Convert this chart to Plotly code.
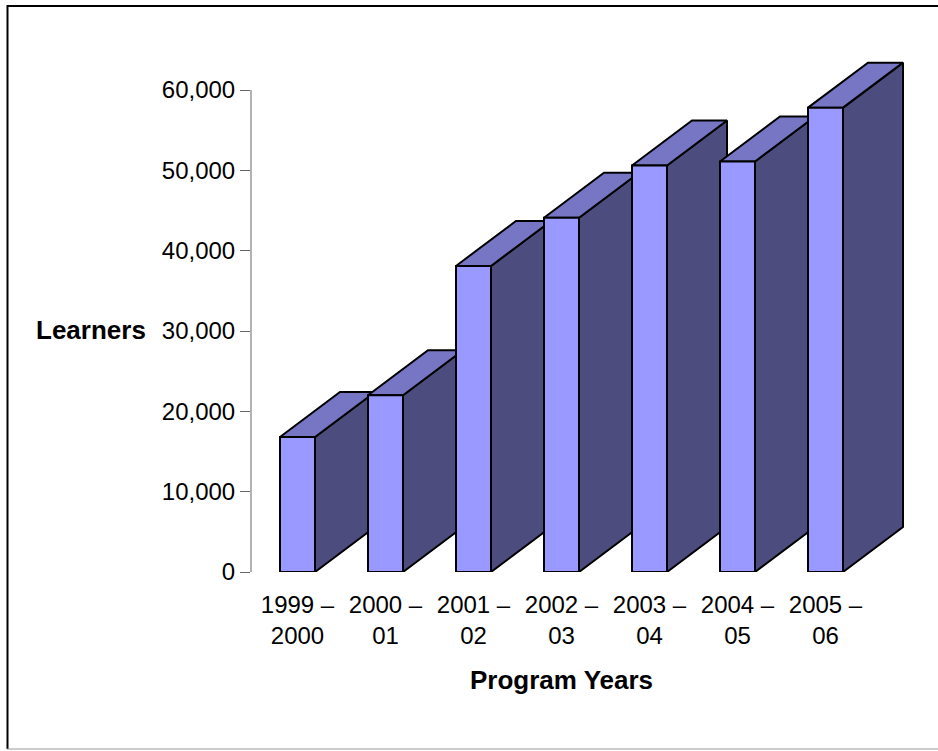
import plotly.graph_objects as go

# ---- data ----
categories = ["1999 –<br>2000", "2000 –<br>01", "2001 –<br>02", "2002 –<br>03",
              "2003 –<br>04", "2004 –<br>05", "2005 –<br>06"]
learners = [16800, 22000, 38100, 44100, 50600, 51100, 57800]
y_ticks = [0, 10000, 20000, 30000, 40000, 50000, 60000]
y_tick_labels = ["0", "10,000", "20,000", "30,000", "40,000", "50,000", "60,000"]

# ---- geometry / layout constants (pixels) ----
W, H = 938, 751
L, R, T, B = 251, 25, 58, 179
plot_w = W - L - R
plot_h = H - T - B
px_per_cat = 88.0
first_center_px = 297.5
px_per_unit = 482.0 / 60000.0

x0 = (L - first_center_px) / px_per_cat
x1 = x0 + plot_w / px_per_cat
ymax = plot_h / px_per_unit

half_w = 17.5 / px_per_cat
dx = 60.0 / px_per_cat
dy = 45.0 / px_per_unit

FRONT = "#9999FF"
SIDE = "#4C4C7F"
TOP = "#7676C4"
EDGE = "black"

fig = go.Figure()

def face(xs, ys, color):
    fig.add_trace(go.Scatter(
        x=xs + [xs[0]], y=ys + [ys[0]], mode="lines", fill="toself",
        fillcolor=color, line=dict(color=EDGE, width=2),
        hoverinfo="skip", showlegend=False))

for i, v in enumerate(learners):
    c = i
    xl, xr = c - half_w, c + half_w
    face([xr, xr + dx, xr + dx, xr], [0, dy, v + dy, v], SIDE)
    face([xl, xr, xr + dx, xl + dx], [v, v, v + dy, v + dy], TOP)
    face([xl, xr, xr, xl], [0, 0, v, v], FRONT)

font_family = "Liberation Sans, Arial, sans-serif"

def pxx(px):
    return (px - L) / plot_w

def pxy(py):
    return (H - B - py) / plot_h

fig.update_layout(
    width=W, height=H,
    margin=dict(l=L, r=R, t=T, b=B, pad=0),
    paper_bgcolor="white", plot_bgcolor="white",
    font=dict(family=font_family, size=24, color="black"),
    xaxis=dict(range=[x0, x1], tickvals=list(range(len(categories))),
               ticktext=categories, showgrid=False, zeroline=False,
               showline=False, ticks="outside", ticklen=11,
               tickcolor="rgba(0,0,0,0)", fixedrange=True),
    yaxis=dict(range=[0, ymax], tickvals=y_ticks, ticktext=y_tick_labels,
               showgrid=False, zeroline=False, showline=False,
               ticks="outside", ticklen=10, tickcolor="#666666",
               tickwidth=1, fixedrange=True),
    shapes=[
        dict(type="line", xref="paper", yref="y", x0=0, x1=0,
             y0=0, y1=60000, line=dict(color="#666666", width=1)),
        dict(type="line", xref="paper", yref="paper",
             x0=pxx(7), x1=pxx(940), y0=pxy(6), y1=pxy(6),
             line=dict(color="black", width=2)),
        dict(type="line", xref="paper", yref="paper",
             x0=pxx(7.5), x1=pxx(7.5), y0=pxy(5), y1=pxy(749),
             line=dict(color="black", width=2)),
        dict(type="line", xref="paper", yref="paper",
             x0=pxx(7), x1=pxx(940), y0=pxy(749), y1=pxy(749),
             line=dict(color="#999999", width=1)),
    ],
    annotations=[
        dict(text="<b>Learners</b>", xref="paper", yref="paper",
             x=pxx(148), y=pxy(330), xanchor="right", yanchor="middle",
             showarrow=False, font=dict(size=26, family=font_family)),
        dict(text="<b>Program Years</b>", xref="paper", yref="paper",
             x=pxx(561), y=pxy(680), xanchor="center", yanchor="middle",
             showarrow=False, font=dict(size=26, family=font_family)),
    ],
)

fig.write_html("out.html")
